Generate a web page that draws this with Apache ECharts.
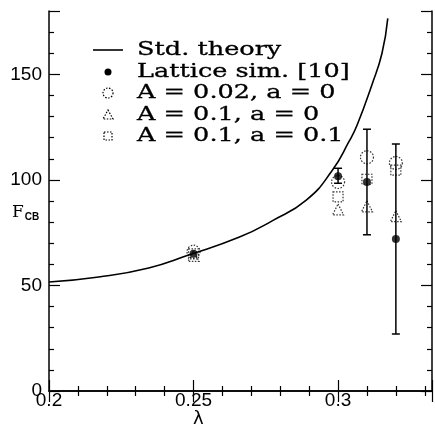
<!DOCTYPE html>
<html>
<head>
<meta charset="utf-8">
<script src="https://cdn.jsdelivr.net/npm/echarts@6/dist/echarts.min.js"></script>
<style>
  html, body { margin: 0; padding: 0; background: #fff; }
  #chart { width: 435px; height: 429px; }
</style>
</head>
<body>
<div id="chart"></div>
<script>
// standard theory curve
const theoryLambda = [0.2, 0.2172, 0.2345, 0.2483, 0.2659, 0.2772, 0.289, 0.2979, 0.3038, 0.3066, 0.3117, 0.3152, 0.3172]
const theoryF = [51.6, 54, 58.3, 64.4, 72.9, 80.6, 90.4, 104.3, 118.2, 126, 145, 160, 176.5]

// lattice simulation with error bars
const latticeLambda = [0.25, 0.30, 0.31, 0.32]
const latticeF = [65, 101.7, 99, 72]
const latticeLow = [65, 98.4, 74, 27]
const latticeHigh = [65, 105.5, 124, 117]

// model points
const modelLambda = [0.25, 0.30, 0.31, 0.32]
const circF = [66, 99, 110.7, 108]   // A = 0.02, a = 0
const triF = [64, 86, 87.5, 82.8]    // A = 0.1, a = 0
const sqF = [65, 92, 100.3, 104.6]   // A = 0.1, a = 0.1

const legendNames = ['Std. theory', 'Lattice sim. [10]', 'A = 0.02, a = 0', 'A = 0.1, a = 0', 'A = 0.1, a = 0.1']

const pairs = (xs, ys) => xs.map((x, i) => [x, ys[i]])

const chart = echarts.init(document.getElementById('chart'))

const tickFont = { fontFamily: 'Liberation Sans', fontSize: 19, color: '#000' }
const serif = 'DejaVu Serif'
const dash = [1.5, 1.5]
const dotted = { color: 'rgba(0,0,0,0)', borderColor: '#000', borderWidth: 1.2, borderType: dash }

const xCommon = {
  type: 'value',
  min: 0.2,
  max: 0.3325,
  interval: 0.05,
  splitLine: { show: false },
  axisLine: { lineStyle: { color: '#000', width: 1.5 } },
  axisTick: { inside: true, length: 11, lineStyle: { color: '#000', width: 1.2 } },
  minorTick: { show: true, splitNumber: 5, length: 5, lineStyle: { color: '#000', width: 1.2 } }
}
const yCommon = {
  type: 'value',
  min: 0,
  max: 180,
  interval: 50,
  splitLine: { show: false },
  axisLine: { lineStyle: { color: '#000', width: 1.5 } },
  axisTick: { inside: true, length: 11, lineStyle: { color: '#000', width: 1.2 } },
  minorTick: { show: true, splitNumber: 5, length: 5, lineStyle: { color: '#000', width: 1.2 } }
}

// legend block drawn as graphics (icons + stretched serif text)
const rowY = [50, 72, 93, 115, 136]
const iconX = 108
const legendStroke = { fill: 'none', stroke: '#000', lineWidth: 1.2, lineDash: dash }
const legendIcons = [
  { type: 'line', shape: { x1: 93, y1: rowY[0], x2: 123, y2: rowY[0] }, style: { stroke: '#000', lineWidth: 1.6 } },
  { type: 'circle', shape: { cx: iconX, cy: rowY[1], r: 3.5 }, style: { fill: '#000' } },
  { type: 'circle', shape: { cx: iconX, cy: rowY[2], r: 5 }, style: legendStroke },
  { type: 'polygon', shape: { points: [[iconX, rowY[3] - 5], [iconX + 5, rowY[3] + 4], [iconX - 5, rowY[3] + 4]] }, style: legendStroke },
  { type: 'rect', shape: { x: iconX - 4, y: rowY[4] - 4, width: 8, height: 8 }, style: legendStroke }
]
const legendTexts = legendNames.map((t, i) => ({
  type: 'text',
  x: 137,
  y: rowY[i],
  scaleX: 1.42,
  style: { text: t, fontFamily: serif, fontSize: 18, fill: '#000', stroke: '#000', lineWidth: 0.3, verticalAlign: 'middle' }
}))

chart.setOption({
  animation: false,
  grid: { left: 49, right: 2, top: 11, bottom: 38 },
  xAxis: [
    Object.assign({}, xCommon, {
      position: 'bottom',
      axisLabel: Object.assign({ margin: 0, formatter: v => (v > 0.33 ? '' : String(+v.toFixed(2))) }, tickFont)
    }),
    Object.assign({}, xCommon, { position: 'top', axisLabel: { show: false } })
  ],
  yAxis: [
    Object.assign({}, yCommon, {
      position: 'left',
      axisLabel: Object.assign({ margin: 7, formatter: v => (v > 160 ? '' : String(v)) }, tickFont)
    }),
    Object.assign({}, yCommon, { position: 'right', axisLabel: { show: false } })
  ],
  graphic: legendIcons.concat(legendTexts, [
    {
      type: 'text', x: 12, y: 204,
      style: {
        text: '{f|F}{s|CB}',
        rich: {
          f: { fontFamily: serif, fontSize: 17, fill: '#000' },
          s: { fontFamily: 'Liberation Sans', fontSize: 10, fontWeight: 'bold', fill: '#000', padding: [8, 0, 0, 1] }
        }
      }
    },
    {
      type: 'text', x: 193, y: 410,
      style: { text: 'λ', fontFamily: 'DejaVu Sans', fontSize: 18, fill: '#000' }
    }
  ]),
  series: [
    {
      name: 'Std. theory',
      type: 'line',
      data: pairs(theoryLambda, theoryF),
      smooth: 0.5,
      symbol: 'none',
      lineStyle: { color: '#000', width: 1.6 },
      z: 2
    },
    {
      name: 'errors',
      type: 'custom',
      data: latticeLambda.map((x, i) => [x, latticeLow[i], latticeHigh[i]]),
      renderItem: function (params, api) {
        const lo = api.coord([api.value(0), api.value(1)])
        const hi = api.coord([api.value(0), api.value(2)])
        if (hi[1] >= lo[1] - 1) return { type: 'group', children: [] }
        const w = 4
        const st = { stroke: '#000', lineWidth: 1.5 }
        return {
          type: 'group',
          children: [
            { type: 'line', shape: { x1: lo[0], y1: lo[1], x2: hi[0], y2: hi[1] }, style: st },
            { type: 'line', shape: { x1: lo[0] - w, y1: lo[1], x2: lo[0] + w, y2: lo[1] }, style: st },
            { type: 'line', shape: { x1: hi[0] - w, y1: hi[1], x2: hi[0] + w, y2: hi[1] }, style: st }
          ]
        }
      },
      z: 3
    },
    {
      name: legendNames[1],
      type: 'scatter',
      data: pairs(latticeLambda, latticeF),
      symbol: 'circle',
      symbolSize: 8,
      itemStyle: { color: '#000' },
      z: 5
    },
    {
      name: legendNames[2],
      type: 'scatter',
      data: pairs(modelLambda, circF),
      symbol: 'circle',
      symbolSize: 13,
      itemStyle: dotted,
      z: 4
    },
    {
      name: legendNames[3],
      type: 'scatter',
      data: pairs(modelLambda, triF),
      symbol: 'triangle',
      symbolSize: 11,
      itemStyle: dotted,
      z: 4
    },
    {
      name: legendNames[4],
      type: 'scatter',
      data: pairs(modelLambda, sqF),
      symbol: 'rect',
      symbolSize: 10,
      itemStyle: dotted,
      z: 4
    }
  ]
})
</script>
</body>
</html>
